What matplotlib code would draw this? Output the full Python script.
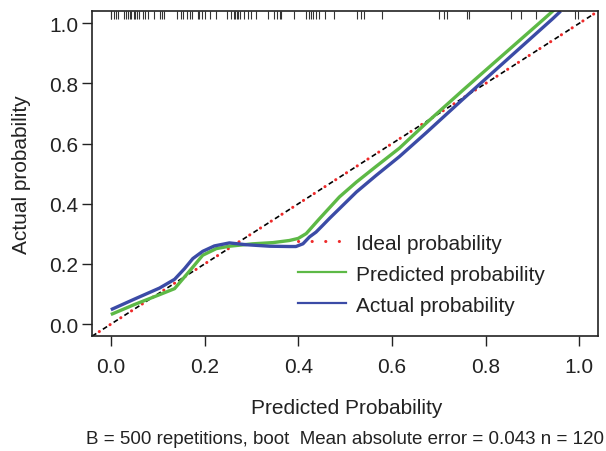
import matplotlib
matplotlib.use("Agg")
import matplotlib.pyplot as plt
from matplotlib.lines import Line2D
from matplotlib.transforms import blended_transform_factory

plt.rcParams["font.family"] = ["Liberation Sans", "DejaVu Sans"]

# apparent (predicted) calibration curve
pred_x = [0.0, 0.05, 0.104, 0.136, 0.154, 0.172, 0.196, 0.225, 0.253, 0.303, 0.346, 0.381,
          0.400, 0.417, 0.445, 0.488, 0.524, 0.566, 0.616, 0.673, 0.751, 0.925, 0.95]
pred_y = [0.032, 0.065, 0.098, 0.118, 0.151, 0.184, 0.229, 0.251, 0.259, 0.267, 0.271, 0.278,
          0.285, 0.301, 0.35, 0.423, 0.472, 0.524, 0.585, 0.668, 0.777, 1.015, 1.05]

# bias-corrected (actual) calibration curve
act_x = [0.0, 0.05, 0.104, 0.136, 0.157, 0.175, 0.196, 0.221, 0.253, 0.289, 0.339, 0.381,
         0.395, 0.41, 0.424, 0.438, 0.452, 0.467, 0.488, 0.524, 0.566, 0.616, 0.673, 0.751,
         0.943, 0.96]
act_y = [0.048, 0.083, 0.120, 0.149, 0.184, 0.218, 0.242, 0.26, 0.27, 0.264, 0.259, 0.258,
         0.258, 0.267, 0.29, 0.306, 0.328, 0.352, 0.384, 0.439, 0.494, 0.557, 0.636, 0.747,
         1.015, 1.04]

# predicted probabilities of the sample (rug at top)
rug = [0.0, 0.001, 0.006, 0.010, 0.016, 0.028, 0.032, 0.036, 0.040, 0.044, 0.049, 0.052,
       0.056, 0.061, 0.068, 0.073, 0.079, 0.092, 0.104, 0.109, 0.113, 0.142, 0.149, 0.154,
       0.163, 0.168, 0.173, 0.186, 0.189, 0.194, 0.200, 0.211, 0.225, 0.247, 0.257, 0.262,
       0.265, 0.269, 0.272, 0.276, 0.285, 0.292, 0.300, 0.310, 0.335, 0.349, 0.354, 0.360,
       0.363, 0.390, 0.417, 0.422, 0.428, 0.432, 0.438, 0.444, 0.458, 0.477, 0.526, 0.534,
       0.540, 0.578, 0.701, 0.712, 0.718, 0.760, 0.765, 0.854, 0.876, 0.908, 0.990, 0.997]

ideal = [-0.04, 1.04]
ticks = [0.0, 0.2, 0.4, 0.6, 0.8, 1.0]
labels = ["Ideal probability", "Predicted probability", "Actual probability"]
subtitle = "B = 500 repetitions, boot  Mean absolute error = 0.043 n = 120"

GREEN = "#5DB946"
BLUE = "#3B4BA6"
RED = "#EE2A2A"

fig = plt.figure(figsize=(6.06, 4.52), dpi=100)
ax = fig.add_axes([0.152, 0.254, 0.835, 0.719])

# ideal line: black dashes with red dots in the gaps (period ~9.2pt)
ax.plot(ideal, ideal, color="black", lw=1.2, linestyle=(0, (3.0, 4.67)))
ax.plot(ideal, ideal, color=RED, lw=2.2, linestyle=(1.4, (0.05, 4.13)),
        dash_capstyle="round")
ax.plot(pred_x, pred_y, color=GREEN, lw=2.4, solid_capstyle="butt")
ax.plot(act_x, act_y, color=BLUE, lw=2.4, solid_capstyle="butt")

trans = blended_transform_factory(ax.transData, ax.transAxes)
ax.vlines(rug, 0.976, 1.0, transform=trans, color="#333333", lw=0.8)

ax.set_xlim(-0.04, 1.04)
ax.set_ylim(-0.04, 1.04)
ax.set_xticks(ticks)
ax.set_yticks(ticks)
ax.set_xticklabels([f"{t:.1f}" for t in ticks])
ax.set_yticklabels([f"{t:.1f}" for t in ticks])
ax.tick_params(axis="x", length=7, width=1, pad=8, labelsize=15, colors="#222222")
ax.tick_params(axis="y", length=7, width=1, pad=3, labelsize=15, colors="#222222")
for s in ax.spines.values():
    s.set_linewidth(1.2)
    s.set_color("#222222")

fig.text(0.572, 0.097, "Predicted Probability", ha="center", va="center", fontsize=15, color="#222222")
fig.text(0.57, 0.027, subtitle, ha="center", va="center", fontsize=13.5, color="#222222")
fig.text(0.035, 0.613, "Actual probability", ha="center", va="center", rotation=90,
         fontsize=15, color="#222222")

handles = [
    Line2D([], [], color=RED, lw=2.2, linestyle=(0, (0.05, 4.4)), dash_capstyle="round"),
    Line2D([], [], color=GREEN, lw=1.6),
    Line2D([], [], color=BLUE, lw=1.6),
]
ax.legend(handles, labels, loc="upper left", bbox_to_anchor=(0.492, 0.481),
          bbox_transform=fig.transFigure, frameon=False, fontsize=15,
          handlelength=2.3, handletextpad=0.5, labelspacing=0.58,
          borderpad=0, borderaxespad=0, labelcolor="#222222")

fig.savefig("out.png", dpi=100)
